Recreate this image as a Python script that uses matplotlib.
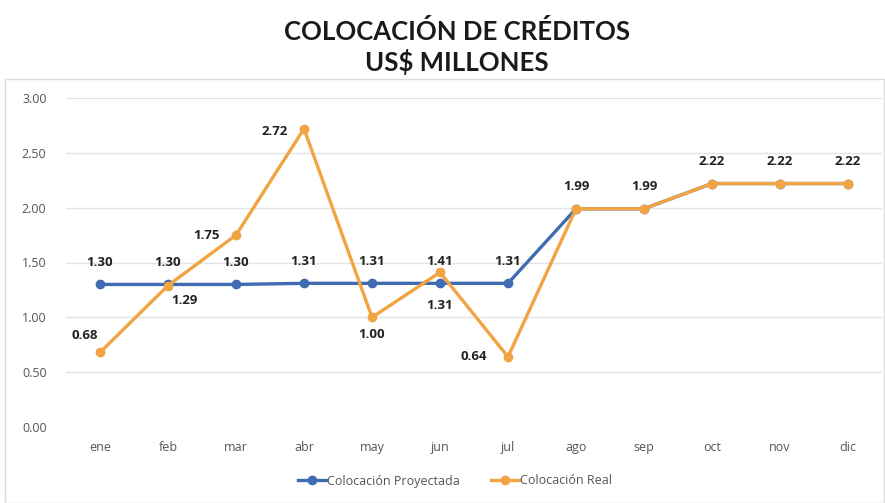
import matplotlib
matplotlib.use('Agg')
import matplotlib.pyplot as plt
from matplotlib.patches import Rectangle

# datos
meses = ["ene", "feb", "mar", "abr", "may", "jun", "jul", "ago", "sep", "oct", "nov", "dic"]
proyectada = [1.30, 1.30, 1.30, 1.31, 1.31, 1.31, 1.31, 1.99, 1.99, 2.22, 2.22, 2.22]
real = [0.68, 1.29, 1.75, 2.72, 1.00, 1.41, 0.64, 1.99, 1.99, 2.22, 2.22, 2.22]

azul = "#3F6CB0"
naranja = "#F2A443"

fig = plt.figure(figsize=(8.85, 5.03), dpi=100)
ax = fig.add_axes([66 / 885, 1 - 427 / 503, 816 / 885, 329 / 503])

# marco gris del grafico
fig.patches.append(Rectangle((5 / 885, 0), 879 / 885, 1 - 79 / 503, transform=fig.transFigure,
                             fill=False, edgecolor="#dcdcdc", linewidth=1))

x = list(range(len(meses)))
ax.plot(x, proyectada, color=azul, lw=2.4, marker="o", ms=6, label="Colocación Proyectada", zorder=3)
ax.plot(x, real, color=naranja, lw=2.4, marker="o", ms=6, label="Colocación Real", zorder=4)

ax.set_xlim(-0.5, 11.5)
ax.set_ylim(0, 3)
ax.set_yticks([0, 0.5, 1, 1.5, 2, 2.5, 3])
ax.set_yticklabels([f"{v:.2f}" for v in [0, 0.5, 1, 1.5, 2, 2.5, 3]])
ax.set_xticks(x)
ax.set_xticklabels(meses)
ax.tick_params(length=0, labelsize=9, labelcolor="#555555", pad=10)
ax.tick_params(axis="y", pad=14)
for lbl in ax.get_xticklabels() + ax.get_yticklabels():
    lbl.set_family("Open Sans")
ax.grid(axis="y", color="#e3e3e3", lw=1)
ax.set_axisbelow(True)
for s in ax.spines.values():
    s.set_visible(False)

# etiquetas de datos
fk = dict(fontsize=9.5, fontweight="bold", color="#222222", family="Open Sans")
for i in range(7):
    dy_p = 16 if i != 5 else -16
    ax.annotate(f"{proyectada[i]:.2f}", (i, proyectada[i]), xytext=(0, dy_p),
                textcoords="offset points", ha="center", va="center", **fk)
pos_real = {0: (-11, 12), 1: (12, -11), 2: (-21, 0), 3: (-21, -2), 4: (0, -12), 5: (0, 8), 6: (-25, 0)}
for i, (ox, oy) in pos_real.items():
    ax.annotate(f"{real[i]:.2f}", (i, real[i]), xytext=(ox, oy),
                textcoords="offset points", ha="center", va="center", **fk)
for i in range(7, 12):
    ax.annotate(f"{real[i]:.2f}", (i, real[i]), xytext=(0, 16),
                textcoords="offset points", ha="center", va="center", **fk)

fig.text(457 / 885, 1 - 32 / 503, "COLOCACIÓN DE CRÉDITOS", ha="center", va="center",
         fontsize=18.5, fontweight="bold", family="Lato", color="#1a1a1a")
fig.text(457 / 885, 1 - 62 / 503, "US$ MILLONES", ha="center", va="center",
         fontsize=18.5, fontweight="bold", family="Lato", color="#1a1a1a")

fig.legend(loc="center", bbox_to_anchor=(455 / 885, 1 - 481 / 503), ncol=2, frameon=False,
           prop={"family": "Open Sans", "size": 9}, handlelength=2.2, handletextpad=0.1,
           columnspacing=2.5, labelcolor="#555555")

fig.savefig("out.png", dpi=100)
